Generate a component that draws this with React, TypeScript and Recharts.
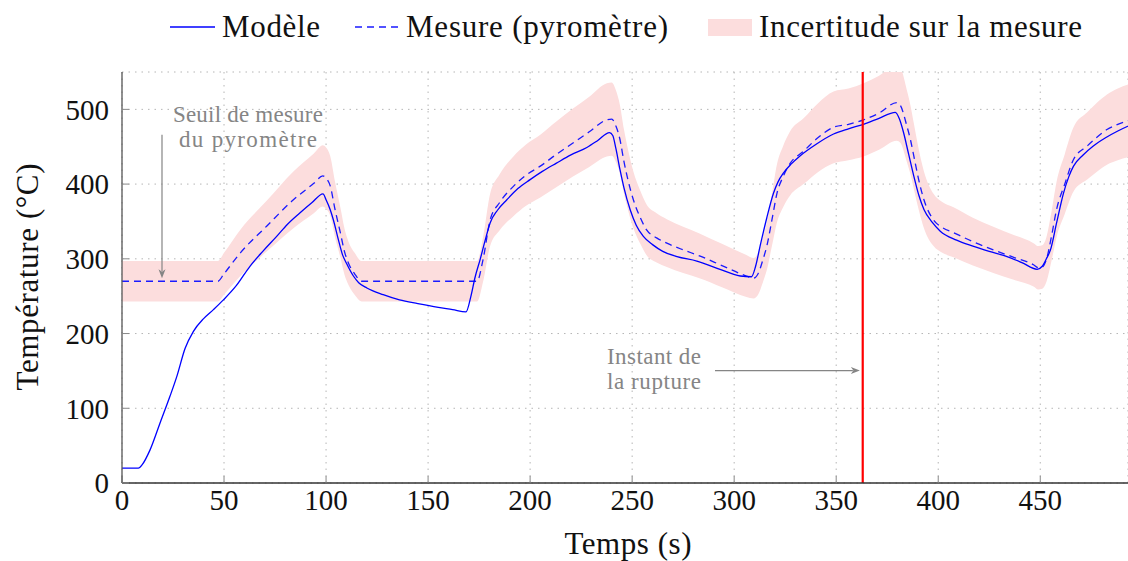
import React from 'react';
import { ComposedChart, Line, Area, XAxis, YAxis, CartesianGrid, ReferenceLine, ReferenceDot } from 'recharts';

const xTicks = [0, 50, 100, 150, 200, 250, 300, 350, 400, 450];
const yTicks = [0, 100, 200, 300, 400, 500];

// Modèle : [temps (s), température (°C)]
const modele: [number, number][] = [
  [0, 20], [8, 20], [10, 25], [13.7, 44], [18.6, 80], [23.5, 116], [26.8, 142], [30.9, 180], [35, 203],
  [40, 220], [44.8, 232], [49.7, 245], [56, 264], [62.7, 290], [69, 310], [75.8, 330], [81, 346], [87, 361],
  [93, 375], [98.5, 387], [100, 379], [102, 366], [103.6, 352], [106, 326], [108, 306], [110, 294], [113.4, 277],
  [116, 268], [120, 261], [128, 252], [136, 245], [145, 240], [155, 235], [162, 232], [168.6, 229], [171, 250],
  [173, 275], [175.5, 299], [178, 325], [180.4, 348], [184, 365], [188.6, 379], [194, 394], [200, 406], [206, 417],
  [212.9, 428], [220, 439], [227.8, 449], [233, 458], [238.9, 469], [240.5, 465], [242, 448], [244, 420], [246, 395],
  [249, 366], [252, 345], [255.5, 330], [260, 319], [265, 310], [272, 303], [281.7, 297], [292, 287], [303, 277],
  [308.5, 276], [310.5, 290], [312.7, 317], [316, 355], [319.3, 388], [321.5, 403], [324.2, 415], [328, 427],
  [332.4, 438], [340, 453], [348.7, 467], [356, 474], [363.4, 480], [371, 488], [379, 496], [381, 487], [383, 469],
  [385.5, 440], [388, 411], [390.5, 385], [393, 366], [397, 349], [401, 337], [409, 325], [417, 317], [425, 310],
  [433.7, 303], [441, 295], [448.5, 286], [451, 290], [453, 300], [455, 312], [458, 348], [461.4, 388], [464, 410],
  [466.3, 424], [471, 439], [476, 451], [482, 462], [488, 471], [495, 480],
];

// Mesure (pyromètre)
const mesure: [number, number][] = [
  [0, 270], [47, 270], [50, 280], [58, 308], [71, 344], [84, 379], [94, 401], [98.4, 411], [100, 408], [102, 398],
  [104.4, 366], [107, 335], [109, 310], [111, 294], [114, 280], [117.5, 270], [174, 270], [177, 300], [180.4, 352],
  [185, 375], [191.8, 397], [198, 412], [205, 424], [213, 440], [221, 455], [229, 470], [237.6, 486], [240, 487],
  [242, 478], [244, 460], [246, 430], [248, 405], [250.6, 379], [254, 355], [257, 339], [262, 328], [267, 321],
  [275, 312], [283, 304], [294, 291], [306, 277], [309.5, 274], [311.9, 281], [314, 298], [316, 317], [318.5, 352],
  [321, 388], [324, 410], [327.5, 428], [334, 444], [341, 462], [348.7, 476], [356, 480], [363.4, 486], [371, 495],
  [379.7, 509], [381.5, 505], [384.6, 478], [386.5, 458], [388, 438], [390.5, 405], [393, 379], [397.7, 352],
  [402, 342], [407.5, 335], [417, 323], [427, 312], [437, 302], [446.7, 292], [449, 288], [451, 289], [453, 299],
  [455.5, 330], [458, 366], [462, 400], [466.3, 433], [473, 451], [477, 461], [482.7, 473], [488, 480], [495, 486],
];

// Incertitude sur la mesure : [temps, bas, haut]
const incertitude: [number, number, number][] = [
  [0, 243, 297], [47, 243, 297], [50, 252, 308], [58, 277, 339], [71, 310, 378], [84, 341, 417], [94, 361, 441],
  [98.4, 370, 452], [100, 367, 449], [102, 358, 438], [104.4, 329, 403], [107, 302, 369], [109, 279, 341],
  [111, 265, 323], [114, 252, 308], [117.5, 243, 297], [174, 243, 297], [177, 270, 330], [180.4, 317, 387],
  [185, 338, 413], [191.8, 357, 437], [198, 371, 453], [205, 382, 466], [213, 396, 484], [221, 410, 501],
  [229, 423, 517], [237.6, 437, 535], [240, 438, 536], [242, 430, 526], [244, 414, 506], [246, 387, 473],
  [248, 365, 446], [250.6, 341, 417], [254, 320, 391], [257, 305, 373], [262, 295, 361], [267, 289, 353],
  [275, 281, 343], [283, 274, 334], [294, 262, 320], [306, 249, 305], [309.5, 247, 301], [311.9, 253, 309],
  [314, 268, 328], [316, 285, 349], [318.5, 317, 387], [321, 349, 427], [324, 369, 451], [327.5, 385, 471],
  [334, 400, 488], [341, 416, 508], [348.7, 428, 524], [356, 432, 528], [363.4, 437, 535], [371, 446, 545],
  [379.7, 458, 560], [381.5, 455, 556], [384.6, 430, 526], [386.5, 412, 504], [388, 394, 482], [390.5, 365, 446],
  [393, 341, 417], [397.7, 317, 387], [402, 308, 376], [407.5, 302, 369], [417, 291, 355], [427, 281, 343],
  [437, 272, 332], [446.7, 263, 321], [449, 259, 317], [451, 260, 318], [453, 269, 329], [455.5, 297, 363],
  [458, 329, 403], [462, 360, 440], [466.3, 390, 476], [473, 406, 496], [477, 415, 507], [482.7, 426, 520],
  [488, 432, 528], [495, 437, 535],
];

const instantRupture = 363;

const modeleData = modele.map(([t, v]) => ({ t, v }));
const mesureData = mesure.map(([t, v]) => ({ t, v }));
const bandeData = incertitude.map(([t, lo, hi]) => ({ t, range: [lo, hi] }));

const GRIS = '#858585';
const ROSE = '#fcdddd';

const Fleche = (props: any) => {
  const { x1, y1, x2, y2 } = props;
  const a = Math.atan2(y2 - y1, x2 - x1);
  const L = 9, W = 3.5;
  const bx = x2 - L * Math.cos(a), by = y2 - L * Math.sin(a);
  const px = -Math.sin(a) * W, py = Math.cos(a) * W;
  return (
    <g>
      <line x1={x1} y1={y1} x2={bx + 2 * Math.cos(a)} y2={by + 2 * Math.sin(a)} stroke={GRIS} strokeWidth={1.2} />
      <polygon points={`${x2},${y2} ${bx + px},${by + py} ${bx + 2.5 * Math.cos(a)},${by + 2.5 * Math.sin(a)} ${bx - px},${by - py}`} fill={GRIS} />
    </g>
  );
};

const note = (lignes: string[], largeurs: number[]) => (props: any) => (
  <text x={props.cx} y={props.cy} textAnchor="middle" fill={GRIS} fontSize={23}>
    {lignes.map((l, i) => (
      <tspan key={i} x={props.cx} dy={i === 0 ? 0 : 25} textLength={largeurs[i]} lengthAdjust="spacing">{l}</tspan>
    ))}
  </text>
);

export default function App() {
  return (
    <div style={{ position: 'absolute', left: 0, top: 0, width: 1128, height: 561, fontFamily: '"Liberation Serif", serif', background: '#fff' }}>
      <ComposedChart width={1128} height={561} margin={{ top: 72, right: 0, left: 62, bottom: 38 }}>
        <CartesianGrid strokeDasharray="1.5 5" stroke="#b5b5b5" />
        <XAxis
          dataKey="t" type="number" domain={[0, 493]} ticks={xTicks} height={40} allowDataOverflow
          tickSize={-7} tickMargin={13} axisLine={{ stroke: '#333', strokeWidth: 1.3 }} tickLine={{ stroke: '#888' }}
          tick={{ fontSize: 29, fill: '#111' }}
        />
        <XAxis
          xAxisId="top" orientation="top" dataKey="t" type="number" domain={[0, 493]} ticks={xTicks} height={0}
          tickSize={-7} tickFormatter={() => ''} axisLine={{ stroke: '#666', strokeWidth: 1.3 }} tickLine={{ stroke: '#888' }}
        />
        <YAxis
          type="number" domain={[0, 550]} ticks={yTicks} width={60} allowDataOverflow
          tickSize={-7} tickMargin={20} axisLine={{ stroke: '#555', strokeWidth: 1.3 }} tickLine={{ stroke: '#888' }}
          tick={{ fontSize: 29, fill: '#111' }}
        />
        <Area data={bandeData} dataKey="range" type="monotone" stroke="none" fill={ROSE} fillOpacity={1} isAnimationActive={false} />
        <Line data={mesureData} dataKey="v" type="monotone" stroke="#1a1aff" strokeWidth={1.3} strokeDasharray="7 5" dot={false} isAnimationActive={false} />
        <Line data={modeleData} dataKey="v" type="monotone" stroke="#0000ff" strokeWidth={1.3} dot={false} isAnimationActive={false} />
        <ReferenceLine x={instantRupture} stroke="#ff0000" strokeWidth={2.2} />
        <ReferenceLine segment={[{ x: 19.6, y: 466 }, { x: 19.6, y: 274 }]} shape={Fleche} />
        <ReferenceLine segment={[{ x: 290.6, y: 150.5 }, { x: 361.6, y: 150.5 }]} shape={Fleche} />
        <ReferenceDot x={61.7} y={483} r={0} shape={note(['Seuil de mesure', 'du pyromètre'], [150, 138])} />
        <ReferenceDot x={260.7} y={159} r={0} shape={note(['Instant de', 'la rupture'], [94, 94])} />
      </ComposedChart>
      <svg width={1128} height={561} style={{ position: 'absolute', left: 0, top: 0, pointerEvents: 'none' }}>
        <line x1={170} y1={27} x2={215} y2={27} stroke="#0000ff" strokeWidth={1.3} />
        <text x={222} y={37} fontSize={31} fill="#111" textLength={98} lengthAdjust="spacing">Modèle</text>
        <line x1={355} y1={27} x2={398} y2={27} stroke="#1a1aff" strokeWidth={1.3} strokeDasharray="7 5" />
        <text x={406} y={37} fontSize={31} fill="#111" textLength={262} lengthAdjust="spacing">Mesure (pyromètre)</text>
        <rect x={708} y={19} width={44} height={17} fill={ROSE} />
        <text x={759} y={37} fontSize={31} fill="#111" textLength={323} lengthAdjust="spacing">Incertitude sur la mesure</text>
        <text x={628} y={554} fontSize={31} fill="#111" textAnchor="middle" textLength={127} lengthAdjust="spacing">Temps (s)</text>
        <text transform="translate(38,277) rotate(-90)" fontSize={31} fill="#111" textAnchor="middle" textLength={227} lengthAdjust="spacing">Température (°C)</text>
      </svg>
    </div>
  );
}
